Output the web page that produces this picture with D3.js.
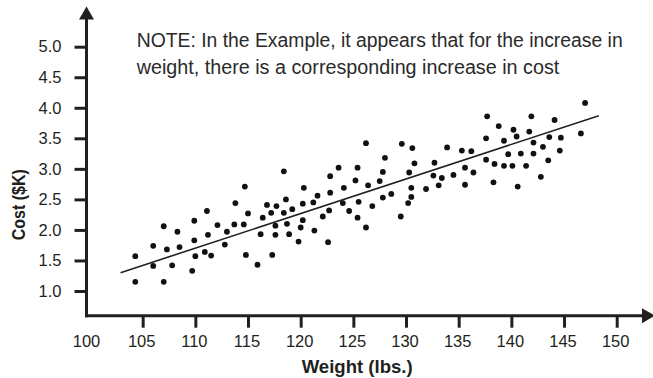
<!DOCTYPE html>
<html>
<head>
<meta charset="utf-8">
<script src="https://cdn.jsdelivr.net/npm/d3@7"></script>
<style>
  html, body { margin: 0; padding: 0; background: #fff; }
  svg { display: block; }
</style>
</head>
<body>
<svg id="chart" width="653" height="378"></svg>
<script>
// Weight (lbs.) and cost ($K) of each sampled item
const weights = [
  104.3,104.3,106.0,106.0,107.0,107.0,107.3,107.8,108.3,108.5,
  109.7,109.9,109.9,110.0,110.9,111.1,111.2,111.5,112.1,112.8,
  113.0,113.8,113.7,114.6,114.7,114.8,115.0,115.9,116.2,116.4,
  116.8,117.2,117.3,117.6,117.6,117.7,118.4,118.6,118.7,118.9,
  119.2,119.8,120.0,120.2,120.2,120.3,121.2,121.3,121.6,122.1,
  122.6,122.7,122.8,118.4,122.8,123.6,124.1,124.0,124.6,125.2,
  125.4,125.4,125.5,126.2,126.2,126.4,126.8,127.5,127.8,127.8,
  128.0,128.6,129.6,129.5,130.2,130.3,130.5,130.5,130.6,130.8,
  131.9,132.6,132.7,133.1,133.4,133.9,134.5,135.3,135.6,135.6,
  136.2,136.4,137.6,137.6,137.7,138.3,138.4,138.8,139.3,139.3,
  139.7,140.1,140.2,140.5,140.6,140.9,141.4,141.7,141.9,142.1,
  142.1,142.8,143.0,143.5,143.6,144.1,144.6,144.7,146.6,147.0
];
const costs = [
  1.57,1.15,1.74,1.41,2.06,1.15,1.68,1.42,1.97,1.72,
  1.33,2.15,1.83,1.57,1.64,2.31,1.92,1.58,2.08,1.76,
  1.97,2.44,2.09,2.09,2.71,1.59,2.27,1.43,1.93,2.20,
  2.41,2.28,1.59,2.07,1.92,2.39,2.28,2.50,2.10,1.93,
  2.34,1.81,2.04,2.16,2.43,2.69,2.45,1.99,2.56,2.22,
  1.80,2.32,2.61,2.96,2.88,3.02,2.69,2.44,2.31,2.81,
  2.20,3.02,2.46,3.42,2.04,2.73,2.39,2.80,2.95,2.53,
  3.18,2.59,3.41,2.22,2.44,2.94,2.54,2.69,3.34,3.09,
  2.67,2.89,3.10,2.73,2.85,3.35,2.90,3.30,3.02,2.74,
  3.29,2.94,3.50,3.15,3.86,2.78,3.08,3.70,3.05,3.46,
  3.24,3.05,3.64,3.53,2.71,3.25,3.05,3.61,3.86,3.43,
  3.25,2.87,3.36,3.14,3.52,3.80,3.30,3.51,3.58,4.08
];

// Trend line end points [weight, cost]
const trendLine = [[102.9, 1.30], [148.3, 3.87]];

// Axis tick values
const xTicks = [100, 105, 110, 115, 120, 125, 130, 135, 140, 145, 150];
const yTicks = [1.0, 1.5, 2.0, 2.5, 3.0, 3.5, 4.0, 4.5, 5.0];

const noteLines = [
  "NOTE: In the Example, it appears that for the increase in",
  "weight, there is a corresponding increase in cost"
];

const ink = "#231f20";
const svg = d3.select("#chart");

const axisX = 86.5;   // vertical axis position
const axisY = 315.7;  // horizontal axis position

const x = d3.scaleLinear().domain([100, 150]).range([90, 616.7]);
const y = d3.scaleLinear().domain([1.0, 5.0]).range([291, 46.7]);

// Y axis ticks and labels
const yAxis = svg.append("g")
  .attr("transform", `translate(${axisX},0)`)
  .call(d3.axisLeft(y).tickValues(yTicks).tickFormat(d3.format(".1f"))
    .tickSize(12).tickPadding(13));
yAxis.select(".domain").remove();
yAxis.selectAll(".tick line").attr("stroke", ink).attr("stroke-width", 3);
yAxis.selectAll(".tick text")
  .attr("fill", ink)
  .style("font-family", "'Liberation Sans', Arial, sans-serif")
  .style("font-size", "16.5px");

// X axis ticks and labels
const xAxis = svg.append("g")
  .attr("transform", `translate(0,${axisY})`)
  .call(d3.axisBottom(x).tickValues(xTicks).tickFormat(d3.format("d"))
    .tickSize(12).tickPadding(8));
xAxis.select(".domain").remove();
xAxis.selectAll(".tick line").attr("stroke", ink).attr("stroke-width", 3)
  .attr("display", d => d === 100 ? "none" : null);
xAxis.selectAll(".tick text")
  .attr("fill", ink)
  .attr("x", d => d === 100 ? -4 : -1.5)
  .style("font-family", "'Liberation Sans', Arial, sans-serif")
  .style("font-size", "16.5px");

// Axis lines with arrowheads
svg.append("line")
  .attr("x1", axisX).attr("y1", axisY + 1.5)
  .attr("x2", axisX).attr("y2", 16)
  .attr("stroke", ink).attr("stroke-width", 3);
svg.append("path")
  .attr("d", `M${axisX - 7.5},19.5 L${axisX},6.5 L${axisX + 7.5},19.5 Z`)
  .attr("fill", ink);

svg.append("line")
  .attr("x1", axisX - 1.5).attr("y1", axisY)
  .attr("x2", 645).attr("y2", axisY)
  .attr("stroke", ink).attr("stroke-width", 3);
svg.append("path")
  .attr("d", `M642,${axisY - 7.5} L655,${axisY} L642,${axisY + 7.5} Z`)
  .attr("fill", ink);

// Trend line
svg.append("line")
  .attr("x1", x(trendLine[0][0])).attr("y1", y(trendLine[0][1]))
  .attr("x2", x(trendLine[1][0])).attr("y2", y(trendLine[1][1]))
  .attr("stroke", ink).attr("stroke-width", 1.6);

// Data points
svg.append("g")
  .selectAll("circle")
  .data(weights.map((w, i) => [w, costs[i]]))
  .join("circle")
  .attr("cx", d => x(d[0]))
  .attr("cy", d => y(d[1]))
  .attr("r", 2.9)
  .attr("fill", "#111");

// Axis titles (condensed bold)
svg.append("text")
  .attr("transform", "translate(25,204.7) rotate(-90)")
  .attr("text-anchor", "middle")
  .attr("textLength", 71)
  .attr("lengthAdjust", "spacingAndGlyphs")
  .attr("fill", ink)
  .style("font-family", "'Liberation Sans', Arial, sans-serif")
  .style("font-weight", "bold")
  .style("font-size", "19px")
  .text("Cost ($K)");

svg.append("text")
  .attr("x", 357.2).attr("y", 373.3)
  .attr("text-anchor", "middle")
  .attr("textLength", 111)
  .attr("lengthAdjust", "spacingAndGlyphs")
  .attr("fill", ink)
  .style("font-family", "'Liberation Sans', Arial, sans-serif")
  .style("font-weight", "bold")
  .style("font-size", "19px")
  .text("Weight (lbs.)");

// Note (condensed)
const noteWidths = [486, 422.6];
svg.append("g")
  .selectAll("text")
  .data(noteLines)
  .join("text")
  .attr("x", 136.7)
  .attr("y", (d, i) => 46.7 + i * 27.3)
  .attr("textLength", (d, i) => noteWidths[i])
  .attr("lengthAdjust", "spacingAndGlyphs")
  .attr("fill", "#2a2a2a")
  .style("font-family", "'Liberation Sans Narrow', 'Liberation Sans', Arial, sans-serif")
  .style("font-size", "19.5px")
  .text(d => d);
</script>
</body>
</html>
